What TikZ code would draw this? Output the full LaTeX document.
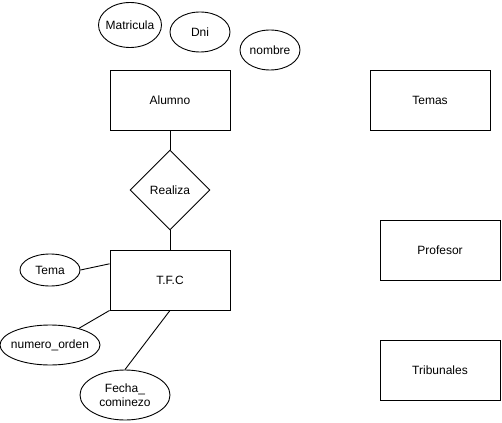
\documentclass[tikz,border=0pt]{standalone}
\usepackage{fontspec}
\setmainfont{Liberation Sans}
\usetikzlibrary{shapes.geometric}

\begin{document}
\begin{tikzpicture}[x=1pt,y=-1pt,line width=0.9pt,font=\fontsize{12}{14}\selectfont]
    \tikzstyle{entity}=[draw,rectangle,minimum width=120pt,minimum height=60pt,inner sep=0pt]
    \tikzstyle{attribute}=[draw,ellipse,minimum width=60pt,minimum height=40pt,inner sep=0pt]
    \tikzstyle{relation}=[draw,diamond,minimum width=80pt,minimum height=80pt,inner sep=0pt]

    \useasboundingbox (0,0) rectangle (502,422);

    % Entities
    \node[entity] (alumno) at (170,100) {Alumno};
    \node[entity] (tfc) at (170,280) {T.F.C};
    \foreach \name/\x/\y/\txt in {temas/430/100/Temas,profesor/440/250/Profesor,tribunales/440/370/Tribunales}
        \node[entity] (\name) at (\x,\y) {\txt};

    % Relation
    \node[relation] (realiza) at (170,190) {Realiza};

    % Attributes of Alumno
    \node[attribute,minimum width=63pt,minimum height=45pt,inner xsep=-5pt] (matricula) at (130,25) {Matricula};
    \node[attribute] (dni) at (200,32) {Dni};
    \node[attribute] (nombre) at (270,50) {nombre};

    % Attributes of T.F.C
    \node[attribute,minimum height=32pt] (tema) at (50,270) {Tema};
    \node[attribute,minimum width=100pt,inner xsep=-4pt] (numero) at (50,345) {numero\_orden};
    \node[attribute,minimum width=90pt,minimum height=50pt,align=center] (fecha) at (125,395) {Fecha\_\\cominezo};

    % Connections
    \draw (alumno.south) -- (realiza.north);
    \draw (realiza.south) -- (tfc.north);
    \draw (tema.east) -- (tfc.165);
    \draw (numero.30) -- (tfc.south west);
    \draw (fecha.north) -- (tfc.south);
\end{tikzpicture}
\end{document}
